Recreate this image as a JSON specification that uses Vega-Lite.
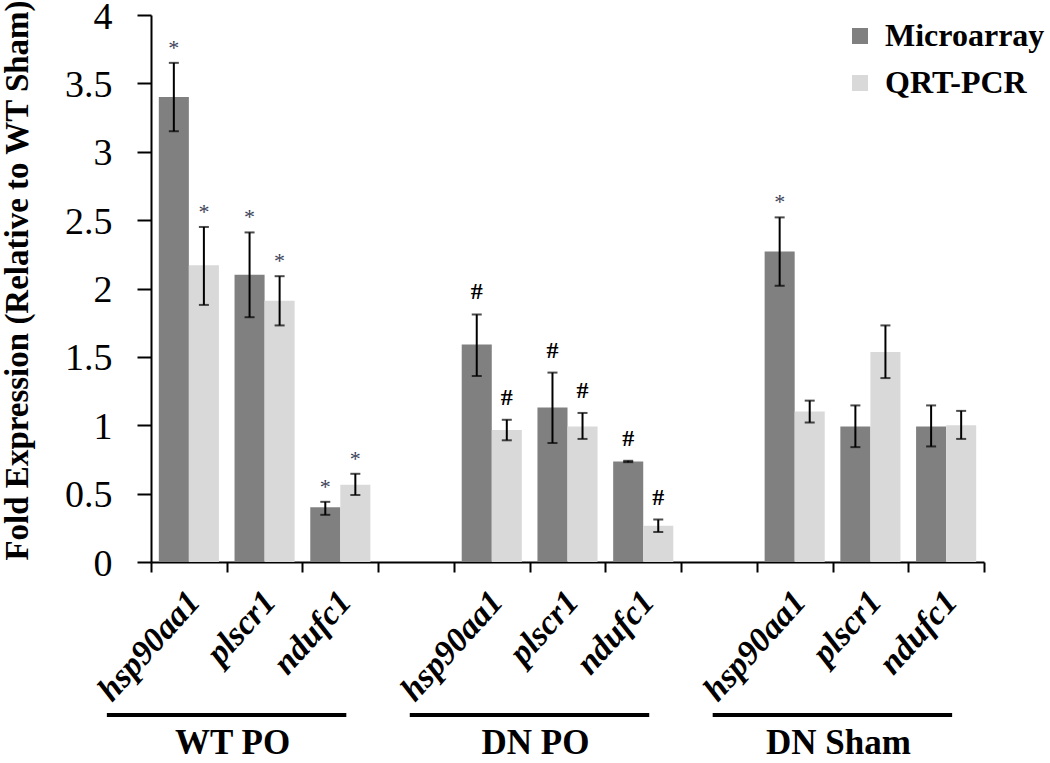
{
  "$schema": "https://vega.github.io/schema/vega-lite/v6.json",
  "autosize": "none",
  "width": 833,
  "height": 547,
  "padding": {"left": 151, "top": 15, "right": 66, "bottom": 201},
  "background": "white",
  "config": {
    "view": {"stroke": null},
    "font": "Liberation Serif"
  },
  "datasets": {
    "bars": [
      {"group": "WT PO", "gene": "hsp90aa1", "cat": "WT PO|hsp90aa1", "method": "Microarray", "value": 3.40, "lo": 3.15, "hi": 3.65, "sig": "*"},
      {"group": "WT PO", "gene": "hsp90aa1", "cat": "WT PO|hsp90aa1", "method": "QRT-PCR", "value": 2.17, "lo": 1.88, "hi": 2.45, "sig": "*"},
      {"group": "WT PO", "gene": "plscr1", "cat": "WT PO|plscr1", "method": "Microarray", "value": 2.10, "lo": 1.79, "hi": 2.41, "sig": "*"},
      {"group": "WT PO", "gene": "plscr1", "cat": "WT PO|plscr1", "method": "QRT-PCR", "value": 1.91, "lo": 1.73, "hi": 2.09, "sig": "*"},
      {"group": "WT PO", "gene": "ndufc1", "cat": "WT PO|ndufc1", "method": "Microarray", "value": 0.40, "lo": 0.345, "hi": 0.44, "sig": "*"},
      {"group": "WT PO", "gene": "ndufc1", "cat": "WT PO|ndufc1", "method": "QRT-PCR", "value": 0.565, "lo": 0.49, "hi": 0.645, "sig": "*"},
      {"group": "DN PO", "gene": "hsp90aa1", "cat": "DN PO|hsp90aa1", "method": "Microarray", "value": 1.59, "lo": 1.36, "hi": 1.81, "sig": "#"},
      {"group": "DN PO", "gene": "hsp90aa1", "cat": "DN PO|hsp90aa1", "method": "QRT-PCR", "value": 0.965, "lo": 0.89, "hi": 1.04, "sig": "#"},
      {"group": "DN PO", "gene": "plscr1", "cat": "DN PO|plscr1", "method": "Microarray", "value": 1.13, "lo": 0.87, "hi": 1.385, "sig": "#"},
      {"group": "DN PO", "gene": "plscr1", "cat": "DN PO|plscr1", "method": "QRT-PCR", "value": 0.99, "lo": 0.90, "hi": 1.09, "sig": "#"},
      {"group": "DN PO", "gene": "ndufc1", "cat": "DN PO|ndufc1", "method": "Microarray", "value": 0.735, "lo": 0.73, "hi": 0.74, "sig": "#"},
      {"group": "DN PO", "gene": "ndufc1", "cat": "DN PO|ndufc1", "method": "QRT-PCR", "value": 0.265, "lo": 0.22, "hi": 0.31, "sig": "#"},
      {"group": "DN Sham", "gene": "hsp90aa1", "cat": "DN Sham|hsp90aa1", "method": "Microarray", "value": 2.27, "lo": 2.02, "hi": 2.52, "sig": "*"},
      {"group": "DN Sham", "gene": "hsp90aa1", "cat": "DN Sham|hsp90aa1", "method": "QRT-PCR", "value": 1.10, "lo": 1.02, "hi": 1.18, "sig": ""},
      {"group": "DN Sham", "gene": "plscr1", "cat": "DN Sham|plscr1", "method": "Microarray", "value": 0.99, "lo": 0.84, "hi": 1.145, "sig": ""},
      {"group": "DN Sham", "gene": "plscr1", "cat": "DN Sham|plscr1", "method": "QRT-PCR", "value": 1.535, "lo": 1.345, "hi": 1.73, "sig": ""},
      {"group": "DN Sham", "gene": "ndufc1", "cat": "DN Sham|ndufc1", "method": "Microarray", "value": 0.99, "lo": 0.845, "hi": 1.145, "sig": ""},
      {"group": "DN Sham", "gene": "ndufc1", "cat": "DN Sham|ndufc1", "method": "QRT-PCR", "value": 1.0, "lo": 0.90, "hi": 1.105, "sig": ""}
    ],
    "groups": [
      {"group": "WT PO", "first": "WT PO|hsp90aa1", "mid": "WT PO|plscr1", "last": "WT PO|ndufc1"},
      {"group": "DN PO", "first": "DN PO|hsp90aa1", "mid": "DN PO|plscr1", "last": "DN PO|ndufc1"},
      {"group": "DN Sham", "first": "DN Sham|hsp90aa1", "mid": "DN Sham|plscr1", "last": "DN Sham|ndufc1"}
    ]
  },
  "layer": [
    {
      "data": {"name": "bars"},
      "mark": {"type": "bar", "stroke": null},
      "encoding": {
        "x": {
          "field": "cat", "type": "nominal", "sort": null,
          "scale": {
            "domain": ["WT PO|hsp90aa1", "WT PO|plscr1", "WT PO|ndufc1", "gap1", "DN PO|hsp90aa1", "DN PO|plscr1", "DN PO|ndufc1", "gap2", "DN Sham|hsp90aa1", "DN Sham|plscr1", "DN Sham|ndufc1"],
            "paddingInner": 0, "paddingOuter": 0
          },
          "axis": {
            "title": null,
            "labelExpr": "indexof(datum.label, '|') >= 0 ? split(datum.label, '|')[1] : ''",
            "labelAngle": -48,
            "labelAlign": "right",
            "labelBaseline": "middle",
            "labelFont": "Liberation Serif",
            "labelFontStyle": "italic",
            "labelFontWeight": "bold",
            "labelFontSize": 34,
            "labelColor": "black",
            "labelPadding": 24,
            "labelOffset": 5,
            "labelOverlap": false,
            "labelBound": false,
            "tickBand": "extent",
            "tickSize": 10,
            "tickWidth": 2,
            "tickColor": "black",
            "domainColor": "black",
            "domainWidth": 2,
            "grid": false
          }
        },
        "xOffset": {
          "field": "method", "type": "nominal",
          "scale": {"domain": ["Microarray", "QRT-PCR"], "paddingInner": 0, "paddingOuter": 0.26}
        },
        "y": {
          "field": "value", "type": "quantitative",
          "scale": {"domain": [0, 4], "nice": false, "zero": true},
          "axis": {
            "title": "Fold Expression (Relative to WT Sham)",
            "titleFont": "Liberation Serif",
            "titleFontWeight": "bold",
            "titleFontSize": 33,
            "titleColor": "black",
            "titleAngle": -90,
            "titleBaseline": "alphabetic",
            "titleX": -124,
            "titleY": 265,
            "values": [0, 0.5, 1, 1.5, 2, 2.5, 3, 3.5, 4],
            "format": "~g",
            "labelFont": "Liberation Serif",
            "labelFontSize": 38,
            "labelColor": "black",
            "labelPadding": 25,
            "labelOffset": 2,
            "tickSize": 14,
            "tickWidth": 2,
            "tickColor": "black",
            "domainColor": "black",
            "domainWidth": 2,
            "grid": false
          }
        },
        "color": {
          "field": "method", "type": "nominal",
          "scale": {"domain": ["Microarray", "QRT-PCR"], "range": ["#808080", "#d9d9d9"]},
          "legend": {
            "title": null,
            "orient": "none",
            "legendX": 693,
            "legendY": 5,
            "padding": 0,
            "symbolType": "square",
            "symbolSize": 256,
            "symbolStrokeWidth": 0,
            "labelFont": "Liberation Serif",
            "labelFontWeight": "bold",
            "labelFontSize": 32,
            "labelColor": "black",
            "labelOffset": 9,
            "rowPadding": 15
          }
        }
      }
    },
    {
      "mark": {"type": "rule", "color": "#d9d9d9", "strokeWidth": 4},
      "encoding": {"y": {"datum": 1}}
    },
    {
      "data": {"name": "bars"},
      "mark": {"type": "rule", "color": "black", "strokeWidth": 2},
      "encoding": {
        "x": {"field": "cat", "type": "nominal"},
        "xOffset": {"field": "method", "type": "nominal"},
        "y": {"field": "lo", "type": "quantitative"},
        "y2": {"field": "hi"}
      }
    },
    {
      "data": {"name": "bars"},
      "mark": {"type": "tick", "color": "black", "thickness": 2, "size": 10, "orient": "horizontal"},
      "encoding": {
        "x": {"field": "cat", "type": "nominal"},
        "xOffset": {"field": "method", "type": "nominal"},
        "y": {"field": "lo", "type": "quantitative"}
      }
    },
    {
      "data": {"name": "bars"},
      "mark": {"type": "tick", "color": "black", "thickness": 2, "size": 10, "orient": "horizontal"},
      "encoding": {
        "x": {"field": "cat", "type": "nominal"},
        "xOffset": {"field": "method", "type": "nominal"},
        "y": {"field": "hi", "type": "quantitative"}
      }
    },
    {
      "data": {"name": "bars"},
      "transform": [{"filter": "datum.sig == '*'"}],
      "mark": {"type": "text", "font": "Liberation Serif", "fontSize": 22, "color": "#3c4258", "baseline": "alphabetic", "align": "center", "dy": -8},
      "encoding": {
        "x": {"field": "cat", "type": "nominal"},
        "xOffset": {"field": "method", "type": "nominal"},
        "y": {"field": "hi", "type": "quantitative"},
        "text": {"field": "sig"}
      }
    },
    {
      "data": {"name": "bars"},
      "transform": [{"filter": "datum.sig == '#'"}],
      "mark": {"type": "text", "font": "Liberation Serif", "fontSize": 24, "fontWeight": "bold", "color": "black", "baseline": "alphabetic", "align": "center", "dy": -15},
      "encoding": {
        "x": {"field": "cat", "type": "nominal"},
        "xOffset": {"field": "method", "type": "nominal"},
        "y": {"field": "hi", "type": "quantitative"},
        "text": {"field": "sig"}
      }
    },
    {
      "data": {"name": "groups"},
      "mark": {"type": "rule", "color": "black", "strokeWidth": 4, "xOffset": -82, "x2Offset": 6, "yOffset": 153},
      "encoding": {
        "x": {"field": "first", "type": "nominal"},
        "x2": {"field": "last"},
        "y": {"datum": 0}
      }
    },
    {
      "data": {"name": "groups"},
      "mark": {"type": "text", "font": "Liberation Serif", "fontSize": 35, "fontWeight": "bold", "color": "black", "baseline": "alphabetic", "align": "center", "dx": -32, "dy": 192},
      "encoding": {
        "x": {"field": "mid", "type": "nominal"},
        "y": {"datum": 0},
        "text": {"field": "group"}
      }
    }
  ]
}
